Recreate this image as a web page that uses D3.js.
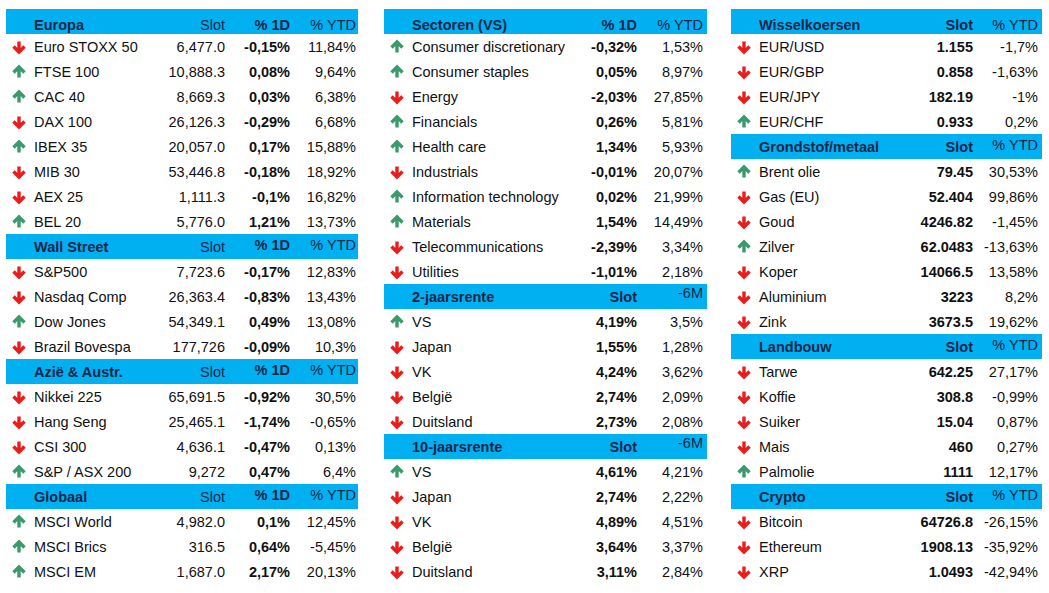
<!DOCTYPE html>
<html>
<head>
<meta charset="utf-8">
<script src="https://d3js.org/d3.v7.min.js"></script>
<style>
  html, body { margin: 0; padding: 0; background: #fff; }
  svg { display: block; font-family: "Liberation Sans", Arial, sans-serif; }
</style>
</head>
<body>
<div id="chart"></div>
<script>
// rows: [name, direction (1 up / -1 down), values...]
const europa = [
  ["Euro STOXX 50", -1, "6,477.0", "-0,15%", "11,84%"],
  ["FTSE 100", 1, "10,888.3", "0,08%", "9,64%"],
  ["CAC 40", 1, "8,669.3", "0,03%", "6,38%"],
  ["DAX 100", -1, "26,126.3", "-0,29%", "6,68%"],
  ["IBEX 35", 1, "20,057.0", "0,17%", "15,88%"],
  ["MIB 30", -1, "53,446.8", "-0,18%", "18,92%"],
  ["AEX 25", -1, "1,111.3", "-0,1%", "16,82%"],
  ["BEL 20", 1, "5,776.0", "1,21%", "13,73%"]
];
const wallStreet = [
  ["S&P500", -1, "7,723.6", "-0,17%", "12,83%"],
  ["Nasdaq Comp", -1, "26,363.4", "-0,83%", "13,43%"],
  ["Dow Jones", 1, "54,349.1", "0,49%", "13,08%"],
  ["Brazil Bovespa", -1, "177,726", "-0,09%", "10,3%"]
];
const azie = [
  ["Nikkei 225", -1, "65,691.5", "-0,92%", "30,5%"],
  ["Hang Seng", -1, "25,465.1", "-1,74%", "-0,65%"],
  ["CSI 300", -1, "4,636.1", "-0,47%", "0,13%"],
  ["S&P / ASX 200", 1, "9,272", "0,47%", "6,4%"]
];
const globaal = [
  ["MSCI World", 1, "4,982.0", "0,1%", "12,45%"],
  ["MSCI Brics", 1, "316.5", "0,64%", "-5,45%"],
  ["MSCI EM", 1, "1,687.0", "2,17%", "20,13%"]
];
const sectoren = [
  ["Consumer discretionary", 1, "-0,32%", "1,53%"],
  ["Consumer staples", 1, "0,05%", "8,97%"],
  ["Energy", -1, "-2,03%", "27,85%"],
  ["Financials", 1, "0,26%", "5,81%"],
  ["Health care", 1, "1,34%", "5,93%"],
  ["Industrials", -1, "-0,01%", "20,07%"],
  ["Information technology", 1, "0,02%", "21,99%"],
  ["Materials", 1, "1,54%", "14,49%"],
  ["Telecommunications", -1, "-2,39%", "3,34%"],
  ["Utilities", -1, "-1,01%", "2,18%"]
];
const rente2j = [
  ["VS", 1, "4,19%", "3,5%"],
  ["Japan", -1, "1,55%", "1,28%"],
  ["VK", -1, "4,24%", "3,62%"],
  ["België", -1, "2,74%", "2,09%"],
  ["Duitsland", -1, "2,73%", "2,08%"]
];
const rente10j = [
  ["VS", 1, "4,61%", "4,21%"],
  ["Japan", -1, "2,74%", "2,22%"],
  ["VK", -1, "4,89%", "4,51%"],
  ["België", -1, "3,64%", "3,37%"],
  ["Duitsland", -1, "3,11%", "2,84%"]
];
const wissel = [
  ["EUR/USD", -1, "1.155", "-1,7%"],
  ["EUR/GBP", -1, "0.858", "-1,63%"],
  ["EUR/JPY", -1, "182.19", "-1%"],
  ["EUR/CHF", 1, "0.933", "0,2%"]
];
const grondstof = [
  ["Brent olie", 1, "79.45", "30,53%"],
  ["Gas (EU)", -1, "52.404", "99,86%"],
  ["Goud", -1, "4246.82", "-1,45%"],
  ["Zilver", 1, "62.0483", "-13,63%"],
  ["Koper", -1, "14066.5", "13,58%"],
  ["Aluminium", -1, "3223", "8,2%"],
  ["Zink", -1, "3673.5", "19,62%"]
];
const landbouw = [
  ["Tarwe", -1, "642.25", "27,17%"],
  ["Koffie", -1, "308.8", "-0,99%"],
  ["Suiker", -1, "15.04", "0,87%"],
  ["Mais", -1, "460", "0,27%"],
  ["Palmolie", 1, "1111", "12,17%"]
];
const crypto = [
  ["Bitcoin", -1, "64726.8", "-26,15%"],
  ["Ethereum", -1, "1908.13", "-35,92%"],
  ["XRP", -1, "1.0493", "-42,94%"]
];

const headsIndex = ["Slot", "% 1D", "% YTD"];
const headsSector = ["% 1D", "% YTD"];
const headsRente = ["Slot", "-6M"];
const headsMarkt = ["Slot", "% YTD"];

const sections = [
  { col: 0, title: "Europa", heads: headsIndex, rows: europa },
  { col: 0, title: "Wall Street", heads: headsIndex, rows: wallStreet },
  { col: 0, title: "Azië & Austr.", heads: headsIndex, rows: azie },
  { col: 0, title: "Globaal", heads: headsIndex, rows: globaal },
  { col: 1, title: "Sectoren (VS)", heads: headsSector, rows: sectoren },
  { col: 1, title: "2-jaarsrente", heads: headsRente, rows: rente2j },
  { col: 1, title: "10-jaarsrente", heads: headsRente, rows: rente10j },
  { col: 2, title: "Wisselkoersen", heads: headsMarkt, rows: wissel },
  { col: 2, title: "Grondstof/metaal", heads: headsMarkt, rows: grondstof },
  { col: 2, title: "Landbouw", heads: headsMarkt, rows: landbouw },
  { col: 2, title: "Crypto", heads: headsMarkt, rows: crypto }
];

// layout of the three table columns
const colLayout = [
  { x0: 6, x1: 358, arrowX: 19, labelX: 34, valueX: [225, 290, 356], bold: [false, true, false] },
  { x0: 384, x1: 707, arrowX: 397, labelX: 412, valueX: [637, 703], bold: [true, false] },
  { x0: 731, x1: 1042, arrowX: 744, labelX: 759, valueX: [973, 1038], bold: [true, false] }
];

const W = 1049, H = 593;
const BAND = "#00b0f0", HEAD_TXT = "#14264a";
const UP = "#3b9a6c", DOWN = "#ea1c1c";

const svg = d3.select("#chart").append("svg")
  .attr("width", W).attr("height", H)
  .attr("viewBox", `0 0 ${W} ${H}`);

// row index -> y position (23 rows of 25px per column)
const y = d3.scaleLinear().domain([0, 23]).range([9, 584]);
const rowH = y(1) - y(0);

// flatten sections into header cells and body rows
const headers = [], body = [];
const nextRow = [0, 0, 0];
sections.forEach(s => {
  const first = nextRow[s.col] === 0;
  headers.push({ ...s, idx: nextRow[s.col]++, first });
  s.rows.forEach(r => body.push({ col: s.col, idx: nextRow[s.col]++, name: r[0], dir: r[1], vals: r.slice(2) }));
});

// header bands
const hg = svg.append("g").selectAll("g").data(headers).join("g")
  .attr("transform", d => `translate(0,${y(d.idx)})`);

hg.append("rect")
  .attr("x", d => colLayout[d.col].x0)
  .attr("width", d => colLayout[d.col].x1 - colLayout[d.col].x0)
  .attr("height", rowH)
  .attr("fill", BAND);

hg.append("text")
  .attr("x", d => colLayout[d.col].labelX)
  .attr("y", d => d.first ? 20.5 : 18)
  .attr("font-size", 14.5).attr("font-weight", "bold")
  .attr("fill", HEAD_TXT)
  .text(d => d.title);

hg.each(function (d) {
  const L = colLayout[d.col];
  d3.select(this).selectAll("text.h").data(d.heads).join("text")
    .attr("class", "h")
    .attr("x", (h, i) => L.valueX[i])
    .attr("y", h => {
      const base = d.first ? 20.5 : 18;
      if (h === "Slot" || d.first) return base;
      return h === "-6M" ? base - 4 : base - 2.5;
    })
    .attr("text-anchor", "end")
    .attr("font-size", 14.5)
    .attr("font-weight", (h, i) => L.bold[i] ? "bold" : "normal")
    .attr("fill", HEAD_TXT)
    .text(h => h);
});

// body rows
const rg = svg.append("g").selectAll("g").data(body).join("g")
  .attr("transform", d => `translate(0,${y(d.idx)})`);

rg.append("path")
  .attr("transform", d => `translate(${colLayout[d.col].arrowX},${rowH / 2 + 0.5}) scale(1,${-d.dir})`)
  .attr("d", "M0,-5.5L0,5M-5.5,-0.5L0,5L5.5,-0.5")
  .attr("fill", "none")
  .attr("stroke", d => d.dir > 0 ? UP : DOWN)
  .attr("stroke-width", 3.4)
  .attr("stroke-linejoin", "miter");

rg.append("text")
  .attr("x", d => colLayout[d.col].labelX)
  .attr("y", 18)
  .attr("font-size", 14.5)
  .attr("fill", "#111")
  .text(d => d.name);

rg.each(function (d) {
  const L = colLayout[d.col];
  d3.select(this).selectAll("text.v").data(d.vals).join("text")
    .attr("class", "v")
    .attr("x", (v, i) => L.valueX[i])
    .attr("y", 18)
    .attr("text-anchor", "end")
    .attr("font-size", 14.5)
    .attr("font-weight", (v, i) => L.bold[i] ? "bold" : "normal")
    .attr("fill", "#111")
    .text(v => v);
});
</script>
</body>
</html>
